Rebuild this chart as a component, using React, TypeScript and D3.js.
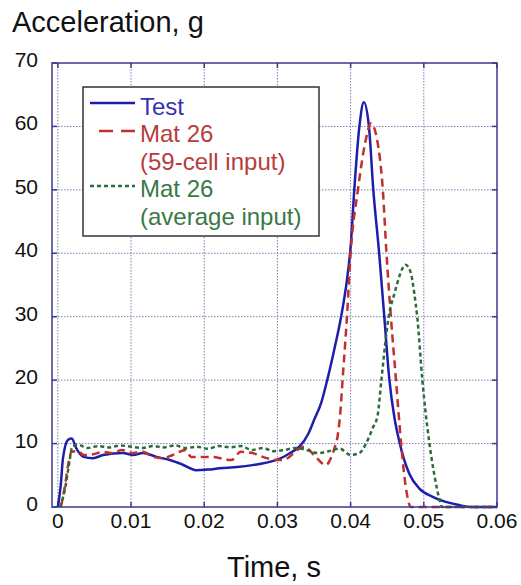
import React from "react";
import * as d3 from "d3";

const xTicks = [0, 0.01, 0.02, 0.03, 0.04, 0.05, 0.06];
const xTickLabels = ["0", "0.01", "0.02", "0.03", "0.04", "0.05", "0.06"];
const yTicks = [0, 10, 20, 30, 40, 50, 60, 70];
const yTickLabels = ["0", "10", "20", "30", "40", "50", "60", "70"];

const seriesNames = ["Test", "Mat 26", "Mat 26"];
const seriesSub = ["", "(59-cell input)", "(average input)"];

const testT = [0.0, 0.0004, 0.0007, 0.0014, 0.0019, 0.0025, 0.0035, 0.0048, 0.0062, 0.0089, 0.0103, 0.0116, 0.0135, 0.0153, 0.017, 0.0189, 0.0205, 0.0221, 0.0245, 0.0266, 0.0285, 0.0298, 0.031, 0.032, 0.033, 0.0342, 0.035, 0.036, 0.0368, 0.0378, 0.0387, 0.0395, 0.04, 0.0405, 0.0412, 0.0418, 0.0425, 0.0431, 0.0439, 0.0446, 0.0453, 0.046, 0.0466, 0.0473, 0.048, 0.0494, 0.0512, 0.053, 0.0548, 0.0565, 0.06];
const testA = [0, 3.5, 7.7, 10.6, 10.8, 9.3, 7.9, 7.7, 8.2, 8.5, 8.2, 8.5, 7.9, 7.4, 6.7, 5.8, 5.9, 6.1, 6.3, 6.6, 7.0, 7.4, 8.0, 8.7, 9.5, 11.5, 13.7, 16.5, 20, 25, 30, 35.8, 41, 50, 60, 63.8, 60, 50, 40, 30, 20, 14, 10.6, 7.5, 5.3, 2.9, 1.6, 0.8, 0.3, 0, 0];

const cellT = [0.0004, 0.001, 0.0014, 0.0019, 0.0028, 0.0035, 0.0048, 0.0062, 0.0075, 0.0087, 0.0103, 0.0116, 0.013, 0.0144, 0.0157, 0.0175, 0.0182, 0.0194, 0.0211, 0.0237, 0.025, 0.0266, 0.0285, 0.0303, 0.0314, 0.0325, 0.0337, 0.035, 0.0366, 0.0373, 0.0378, 0.0382, 0.0386, 0.0389, 0.0395, 0.04, 0.041, 0.042, 0.0428, 0.0436, 0.0444, 0.0449, 0.0455, 0.0462, 0.0469, 0.0473, 0.0478, 0.0482, 0.06];
const cellA = [0, 3.5, 6.6, 8.7, 8.8, 8.2, 8.3, 8.7, 8.5, 9.0, 8.5, 8.7, 7.9, 7.7, 8.2, 9.0, 7.9, 7.9, 7.9, 7.4, 8.7, 8.5, 7.7, 7.4, 7.7, 8.8, 9.5, 8.2, 6.6, 7.7, 9.3, 11, 15, 20, 30, 40, 50, 57.5, 60.5, 58, 50, 40, 30, 20, 10, 5.3, 1.4, 0, 0];

const avgT = [0.0003, 0.001, 0.0015, 0.002, 0.0028, 0.004, 0.0055, 0.007, 0.0085, 0.01, 0.0115, 0.013, 0.0145, 0.016, 0.0175, 0.019, 0.0205, 0.022, 0.0235, 0.025, 0.0265, 0.028, 0.0295, 0.031, 0.0325, 0.034, 0.0355, 0.037, 0.0385, 0.04, 0.0412, 0.0421, 0.043, 0.0437, 0.0442, 0.0452, 0.046, 0.0467, 0.0475, 0.0482, 0.0487, 0.0491, 0.0498, 0.0507, 0.0514, 0.0521, 0.0525, 0.06];
const avgA = [0, 3, 6.5, 9.6, 9.8, 9.3, 9.6, 9.4, 9.7, 9.5, 9.3, 9.6, 9.4, 9.7, 9.3, 9.5, 9.2, 9.6, 9.4, 9.6, 9.0, 9.3, 8.8, 9.0, 9.3, 9.0, 8.5, 8.8, 9.2, 8.2, 8.5, 10, 12.4, 14.5, 20, 30, 33.7, 36.5, 38.2, 37, 33.7, 30, 20, 10.6, 5.3, 1.4, 0, 0];

const W = 521;
const H = 585;
const L = 52, R = 497, T = 63, B = 507;
const FONT = "'Liberation Sans', Arial, Helvetica, sans-serif";
const FRAME = "#3a3a8c";
const GRID = "#7c7cb4";

export default function App() {
  const x = d3.scaleLinear().domain([-0.0008, 0.06]).range([L, R]);
  const y = d3.scaleLinear().domain([0, 70]).range([B, T]);
  const line = d3
    .line<[number, number]>()
    .x((d) => x(d[0]))
    .y((d) => y(d[1]))
    .curve(d3.curveMonotoneX);
  const zip = (ts: number[], as: number[]) => ts.map((t, i) => [t, as[i]] as [number, number]);

  const series = [
    { pts: zip(testT, testA), color: "#1e1eaa", dash: undefined, text: "#3333b3" },
    { pts: zip(cellT, cellA), color: "#c0302c", dash: "8,5", text: "#b83c3c" },
    { pts: zip(avgT, avgA), color: "#2c6c3c", dash: "4,3", text: "#3a7848" },
  ];

  return (
    <svg width={W} height={H} style={{ position: "absolute", left: 0, top: 0, background: "#fff" }}>
      <rect x={0} y={0} width={W} height={H} fill="#fff" />
      {/* grid */}
      {xTicks.slice(0, -1).map((t) => (
        <line key={"gx" + t} x1={x(t)} x2={x(t)} y1={T} y2={B} stroke={GRID} strokeWidth={1} strokeDasharray="1.5,1.5" />
      ))}
      {yTicks.slice(1, -1).map((v) => (
        <line key={"gy" + v} x1={L} x2={R} y1={y(v)} y2={y(v)} stroke={GRID} strokeWidth={1} strokeDasharray="1.5,1.5" />
      ))}
      {/* ticks */}
      {xTicks.map((t) => (
        <g key={"tx" + t}>
          <line x1={x(t)} x2={x(t)} y1={B} y2={B - 5} stroke={FRAME} strokeWidth={1.5} />
          <line x1={x(t)} x2={x(t)} y1={T} y2={T + 5} stroke={FRAME} strokeWidth={1.5} />
        </g>
      ))}
      {yTicks.map((v) => (
        <g key={"ty" + v}>
          <line x1={L} x2={L + 5} y1={y(v)} y2={y(v)} stroke={FRAME} strokeWidth={1.5} />
          <line x1={R} x2={R - 5} y1={y(v)} y2={y(v)} stroke={FRAME} strokeWidth={1.5} />
        </g>
      ))}
      {/* series */}
      {series.map((s, i) => (
        <path key={"s" + i} d={line(s.pts) || ""} fill="none" stroke={s.color} strokeWidth={2.5} strokeDasharray={s.dash} strokeLinejoin="round" />
      ))}
      {/* frame */}
      <rect x={L} y={T} width={R - L} height={B - T} fill="none" stroke={FRAME} strokeWidth={1.5} />
      {/* tick labels */}
      {xTicks.map((t, i) => (
        <text key={"lx" + t} x={x(t)} y={528} textAnchor="middle" fontFamily={FONT} fontSize={21} fill="#111">
          {xTickLabels[i]}
        </text>
      ))}
      {yTicks.map((v, i) => (
        <text key={"ly" + v} x={38} y={y(v) + 4} textAnchor="end" fontFamily={FONT} fontSize={21} fill="#111">
          {yTickLabels[i]}
        </text>
      ))}
      {/* titles */}
      <text x={12} y={32} fontFamily={FONT} fontSize={29} fill="#111">Acceleration, g</text>
      <text x={274} y={577} textAnchor="middle" fontFamily={FONT} fontSize={29} fill="#111">Time, s</text>
      {/* legend */}
      <rect x={83} y={87} width={236} height={149} fill="#fff" stroke="#333" strokeWidth={1.5} />
      <line x1={90} x2={135} y1={103} y2={103} stroke={series[0].color} strokeWidth={2.5} />
      <line x1={99} x2={113} y1={131} y2={131} stroke={series[1].color} strokeWidth={2.5} />
      <line x1={121} x2={135} y1={131} y2={131} stroke={series[1].color} strokeWidth={2.5} />
      <line x1={90} x2={135} y1={186} y2={186} stroke={series[2].color} strokeWidth={2.5} strokeDasharray="4,3" />
      <text x={140} y={115} fontFamily={FONT} fontSize={24} fill={series[0].text}>{seriesNames[0]}</text>
      <text x={140} y={142} fontFamily={FONT} fontSize={24} fill={series[1].text}>{seriesNames[1]}</text>
      <text x={140} y={170} fontFamily={FONT} fontSize={24} fill={series[1].text}>{seriesSub[1]}</text>
      <text x={140} y={197} fontFamily={FONT} fontSize={24} fill={series[2].text}>{seriesNames[2]}</text>
      <text x={140} y={225} fontFamily={FONT} fontSize={24} fill={series[2].text}>{seriesSub[2]}</text>
    </svg>
  );
}
